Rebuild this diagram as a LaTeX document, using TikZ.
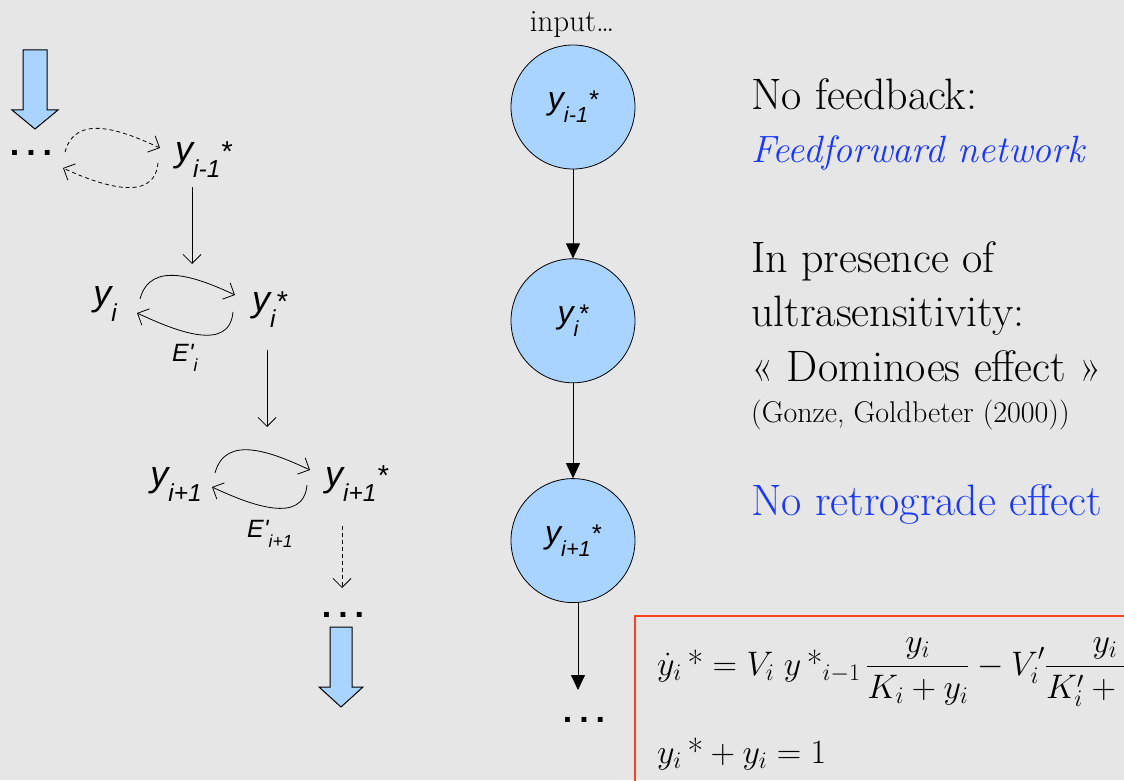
\RequirePackage{fix-cm}
\documentclass[tikz,border=0pt]{standalone}
\usepackage{fontspec}
\usepackage{graphicx}
\usetikzlibrary{arrows.meta,positioning,calc}
\newfontfamily\varfont{Liberation Sans}
\definecolor{paper}{RGB}{230,230,230}
\definecolor{cell}{RGB}{168,212,255}
\definecolor{note}{RGB}{25,55,255}
\definecolor{frame}{RGB}{255,64,32}
\newcommand{\yvar}[2]{y\raisebox{-0.42em}{\scalebox{0.68}{#1}}\raisebox{0.02em}{\scalebox{0.8}{#2}}}
\newcommand{\evar}[1]{E'\raisebox{-0.4em}{\scalebox{0.7}{#1}}}
\newcommand{\sstar}{\mbox{*}}

\begin{document}
\begin{tikzpicture}[x=1pt,y=1pt,font=\fontsize{44}{52}\selectfont,
  varnode/.style={font=\varfont\itshape\fontsize{36}{40}\selectfont,inner sep=0pt},
  lblnode/.style={font=\varfont\itshape\fontsize{25}{28}\selectfont,inner sep=0pt},
  dotnode/.style={font=\varfont\bfseries\fontsize{34}{34}\selectfont,inner sep=0pt},
  cellnode/.style={circle,draw,line width=0.8pt,fill=cell,minimum size=124pt,inner sep=0pt,font=\varfont\itshape\fontsize{32}{36}\selectfont},
  txt/.style={anchor=base west,inner sep=0pt},
  arr/.style={-{Straight Barb[length=9pt,width=18pt]},line width=0.8pt},
  arrd/.style={arr,dash pattern=on 4pt off 3pt},
  arrf/.style={-{Triangle[length=15pt,width=14pt]},line width=0.8pt},
  blockarr/.style={draw,fill=cell,line width=1pt,line join=miter}]

  \path[use as bounding box,fill=paper] (0,0) rectangle (1124,780);
  \clip (0,0) rectangle (1124,780);

  % left: the cascade of cycles
  \draw[blockarr] (35,651) -- (58,670) -- (47,670) -- (47,730) -- (23,730) -- (23,670) -- (12,670) -- cycle;
  \node[dotnode] (d1) at (31,627) {.\kern7pt.\kern7pt.};
  \node[varnode,anchor=base west] (r1) at (175,618) {\yvar{i-1}{*}};
  \node[varnode,anchor=base east] (l2) at (117,474) {\yvar{i}{}};
  \node[varnode,anchor=base west] (r2) at (252,468) {\yvar{i}{*}};
  \node[lblnode,anchor=base west] (e2) at (172,418) {\evar{i}};
  \node[varnode,anchor=base east] (l3) at (202,294) {\yvar{i+1}{}};
  \node[varnode,anchor=base west] (r3) at (325,294) {\yvar{i+1}{*}};
  \node[lblnode,anchor=base west] (e3) at (247,243) {\evar{i+1}};
  \node[dotnode] (d3) at (343,165) {.\kern7pt.\kern7pt.};
  \draw[blockarr] (341,73) -- (363,93) -- (352,93) -- (352,153) -- (330,153) -- (330,93) -- (319,93) -- cycle;

  \draw[arrd] ($(d1.center)+(34,1)$) to[out=75,in=155,looseness=1.1] ($(r1.base west)+(-15,14)$);
  \draw[arrd] ($(r1.base west)+(-17,-1)$) to[out=-95,in=-25,looseness=1.1] ($(d1.center)+(32,-15)$);
  \draw[arr] ($(l2.base east)+(23,7)$) to[out=75,in=155,looseness=1.1] ($(r2.base west)+(-17,17)$);
  \draw[arr] ($(r2.base west)+(-19,0)$) to[out=-95,in=-25,looseness=1.1] ($(l2.base east)+(20,-7)$);
  \draw[arr] ($(l3.base east)+(13,13)$) to[out=75,in=155,looseness=1.1] ($(r3.base west)+(-15,16)$);
  \draw[arr] ($(r3.base west)+(-18,1)$) to[out=-95,in=-25,looseness=1.1] ($(l3.base east)+(10,-1)$);

  \coordinate (a1) at (192,516);
  \coordinate (a2) at (267,353);
  \coordinate (a3) at (342,192);
  \draw[arr,shorten <=10pt] (r1.south -| a1) -- (a1);
  \draw[arr,shorten <=5pt] (e2.north -| a2) -- (a2);
  \draw[arrd,shorten <=6pt] (e3.north -| a3) -- (a3);

  % middle: feedforward chain
  \node[cellnode] (c1) at (573,673) {\yvar{i-1}{*}};
  \node[cellnode,below=89pt of c1] (c2) {\yvar{i}{*}};
  \node[cellnode,below=95pt of c2] (c3) {\yvar{i+1}{*}};
  \node[anchor=base,font=\fontsize{31}{36}\selectfont] (inp) at (572,748) {input…};
  \foreach \i/\j in {c1/c2,c2/c3} \draw[arrf] (\i)--(\j);
  \coordinate (end) at (578,90);
  \draw[arrf] (c3.south -| end) -- (end);
  \node[dotnode] (d4) at (584,60) {.\kern7pt.\kern7pt.};

  % right: comments
  \node[txt] (n1) at (751,670) {No feedback:};
  \node[txt,text=note,font=\fontsize{38}{44}\selectfont\itshape] (n2) at (751,617) {Feedforward network};
  \node[txt] (n3) at (751,507) {In presence of};
  \node[txt] (n4) at (751,453) {ultrasensitivity:};
  \node[txt] (n5) at (751,398) {« Dominoes effect »};
  \node[txt,font=\fontsize{30}{34}\selectfont] (n6) at (751,357) {(Gonze, Goldbeter (2000))};
  \node[txt,text=note] (n7) at (751,265) {No retrograde effect};

  % equations
  \draw[frame,line width=1.5pt] (635,164) rectangle (1140,-10);
  \node[txt,font=\fontsize{34}{40}\selectfont] (eq1) at (657,105)
    {$\dot y_i\,\sstar=V_i\;y\,\sstar{}_{i-1}\,\displaystyle\frac{y_i}{K_i+y_i}-V_i'\frac{y_i}{K_i'+y_i\sstar}$};
  \node[txt,font=\fontsize{34}{40}\selectfont] (eq2) at (657,17) {$y_i\,\sstar+y_i=1$};
\end{tikzpicture}
\end{document}
